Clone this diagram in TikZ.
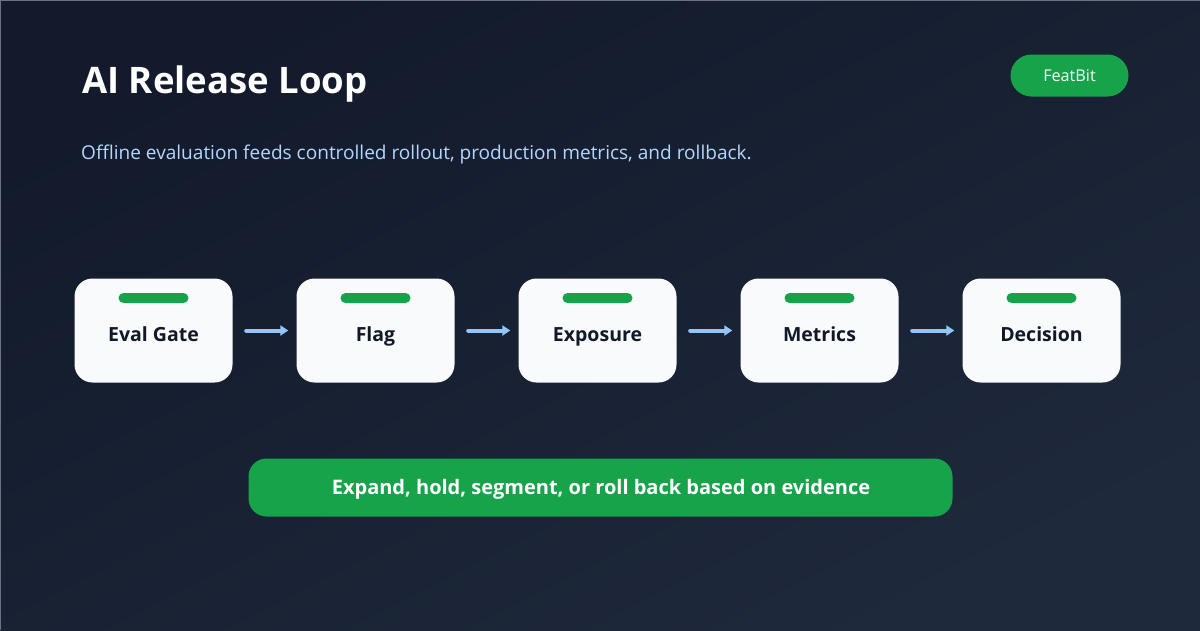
\documentclass[tikz,border=0pt]{standalone}
\usepackage{fontspec}
\setmainfont{Open Sans}
\usetikzlibrary{arrows.meta}
\definecolor{bgdark}{HTML}{121A2B}
\definecolor{bglight}{HTML}{1E293B}
\definecolor{edgegray}{HTML}{6B7280}
\definecolor{featgreen}{HTML}{16A34A}
\definecolor{cardwhite}{HTML}{F8FAFC}
\definecolor{inkdark}{HTML}{111827}
\definecolor{skyblue}{HTML}{93C5FD}
\tikzset{
    cardbox/.style={fill=cardwhite,rounded corners=18pt,minimum width=158pt,minimum height=104pt,inner sep=0pt},
    cardbar/.style={fill=featgreen,rounded corners=5pt,minimum width=70pt,minimum height=10pt,inner sep=0pt},
    cardtext/.style={text=inkdark,font=\fontsize{19.5}{24}\selectfont\bfseries,inner sep=0pt,anchor=base},
    flowarrow/.style={draw=skyblue,line width=4pt,line cap=round,-{Triangle[length=8pt,width=10pt]},shorten <=13.5pt,shorten >=8pt},
}
\begin{document}
\begin{tikzpicture}[x=1pt,y=-1pt]
    \useasboundingbox (0,0) rectangle (1200,630);
    \shade[left color=bgdark,right color=bglight,shading angle=27] (0,0) rectangle (1200,630);
    \draw[edgegray,line width=1pt] (0.5,630) -- (0.5,0.5) -- (1200,0.5);
    % header
    \node[text=white,font=\fontsize{36.5}{42}\selectfont\bfseries,inner sep=0pt,anchor=base west] (title) at (82,93) {AI Release Loop};
    \node[text=skyblue!70!white,font=\fontsize{19.05}{24}\selectfont,inner sep=0pt,anchor=base west] (subtitle) at (81,159) {Offline evaluation feeds controlled rollout, production metrics, and rollback.};
    \node[fill=featgreen,rounded corners=21pt,minimum width=118pt,minimum height=42pt,inner sep=0pt] (badge) at (1069.5,75.5) {};
    \node[text=cardwhite,font=\fontsize{16.2}{20}\selectfont,inner sep=0pt,anchor=base] (badgetext) at (1069.5,81) {FeatBit};
    % cards
    \foreach \x/\name/\lab in {153.5/eval/Eval Gate,375.5/flag/Flag,597.5/exposure/Exposure,819.5/metrics/Metrics,1041.5/decision/Decision}{%
        \node[cardbox] (\name) at (\x,330.5) {};
        \node[cardbar] (\name bar) at (\x,298) {};
        \node[cardtext] (\name text) at (\x,341) {\lab};
    }
    \foreach \a/\b in {eval/flag,flag/exposure,exposure/metrics,metrics/decision}{%
        \draw[flowarrow] (\a) -- (\b);
    }
    % verdict
    \node[fill=featgreen,rounded corners=18pt,minimum width=704pt,minimum height=58pt,inner sep=0pt] (verdict) at (600.5,487.5) {};
    \node[text=white,font=\fontsize{20}{24}\selectfont\bfseries,inner sep=0pt,anchor=base] (verdicttext) at (601,494) {Expand, hold, segment, or roll back based on evidence};
\end{tikzpicture}
\end{document}
